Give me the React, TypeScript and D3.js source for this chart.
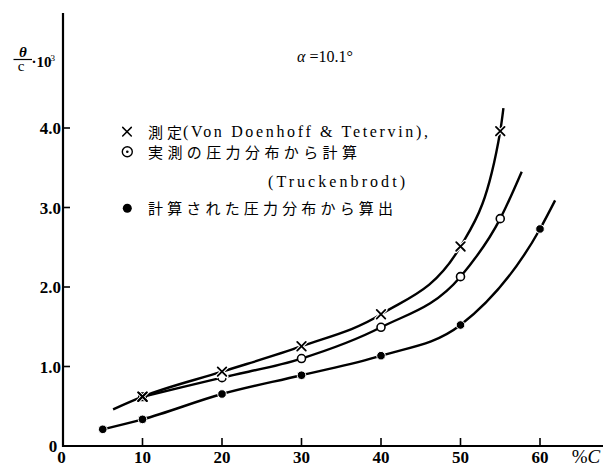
import React from "react";
import * as d3 from "d3";

// ---- data ----
const xTickValues = [10, 20, 30, 40, 50, 60];
const yTickValues = [1.0, 2.0, 3.0, 4.0];
const yTickLabels = ["1.0", "2.0", "3.0", "4.0"];

// × : measured (Von Doenhoff & Tetervin)
const measuredX = [10, 20, 30, 40, 50, 55];
const measuredY = [0.62, 0.935, 1.255, 1.657, 2.51, 3.96];
const measuredCurveStart: [number, number] = [6.3, 0.46];
const measuredCurveEnd: [number, number] = [55.4, 4.25];

// ○ : computed from measured pressure distribution (Truckenbrodt)
const openX = [20, 30, 40, 50, 55];
const openY = [0.86, 1.1, 1.493, 2.13, 2.86];
const openCurveStart: [number, number] = [10, 0.62];
const openCurveEnd: [number, number] = [57.7, 3.45];

// ● : computed from calculated pressure distribution
const filledX = [5, 10, 20, 30, 40, 50, 60];
const filledY = [0.21, 0.335, 0.654, 0.89, 1.136, 1.522, 2.73];
const filledCurveEnd: [number, number] = [61.9, 3.09];

// coincident point (× and ○ overlap)
const overlapX = [10];
const overlapY = [0.62];

const W = 613;
const H = 469;

export default function App() {
  const x = d3.scaleLinear().domain([0, 60]).range([63, 540]);
  const y = d3.scaleLinear().domain([0, 4]).range([446, 128]);

  const line = d3
    .line<[number, number]>()
    .x((d) => x(d[0]))
    .y((d) => y(d[1]))
    .curve(d3.curveMonotoneX);

  const zip = (xs: number[], ys: number[]) =>
    xs.map((v, i) => [v, ys[i]] as [number, number]);

  const measuredPts = zip(measuredX, measuredY);
  const openPts = zip(openX, openY);
  const filledPts = zip(filledX, filledY);
  const overlapPts = zip(overlapX, overlapY);

  const measuredPath = line([measuredCurveStart, ...measuredPts, measuredCurveEnd]) || "";
  const openPath = line([openCurveStart, ...openPts, openCurveEnd]) || "";
  const filledPath = line([...filledPts, filledCurveEnd]) || "";

  const serif = "'Liberation Serif', 'DejaVu Serif', serif";
  const jp = "'Noto Sans CJK JP', sans-serif";

  const axisLeft = 63;
  const axisBottom = 446;

  const cross = (cx: number, cy: number, s: number, key: string, sw = 1.8) => (
    <g key={key} stroke="#000" strokeWidth={sw} strokeLinecap="round">
      <line x1={cx - s} y1={cy - s} x2={cx + s} y2={cy + s} />
      <line x1={cx - s} y1={cy + s} x2={cx + s} y2={cy - s} />
    </g>
  );

  return (
    <svg
      width={W}
      height={H}
      viewBox={`0 0 ${W} ${H}`}
      style={{ position: "absolute", left: 0, top: 0, display: "block", background: "#fff" }}
    >
      <rect x={0} y={0} width={W} height={H} fill="#fff" />

      {/* axes */}
      <line x1={axisLeft} y1={13} x2={axisLeft} y2={axisBottom + 1} stroke="#000" strokeWidth={2.2} />
      <line x1={axisLeft - 1} y1={axisBottom} x2={603} y2={axisBottom} stroke="#000" strokeWidth={2.2} />

      {/* x ticks */}
      {xTickValues.map((t) => (
        <g key={"xt" + t}>
          <line x1={x(t)} x2={x(t)} y1={axisBottom} y2={axisBottom - 8} stroke="#000" strokeWidth={1.6} />
          <text
            x={x(t)}
            y={463}
            textAnchor="middle"
            fontFamily={serif}
            fontWeight="bold"
            fontSize={17}
          >
            {t}
          </text>
        </g>
      ))}
      <text x={61.5} y={463} textAnchor="middle" fontFamily={serif} fontWeight="bold" fontSize={17}>
        0
      </text>
      <text x={53} y={452} textAnchor="middle" fontFamily={serif} fontWeight="bold" fontSize={17}>
        0
      </text>
      <text x={586} y={463} textAnchor="middle" fontFamily={serif} fontSize={19}>
        %<tspan fontStyle="italic">C</tspan>
      </text>

      {/* y ticks */}
      {yTickValues.map((t, i) => (
        <g key={"yt" + t}>
          <line x1={axisLeft} x2={axisLeft + 7} y1={y(t)} y2={y(t)} stroke="#000" strokeWidth={1.6} />
          <text
            x={61}
            y={y(t) + 6}
            textAnchor="end"
            fontFamily={serif}
            fontWeight="bold"
            fontSize={17}
          >
            {yTickLabels[i]}
          </text>
        </g>
      ))}

      {/* y axis label: θ/c · 10³ */}
      <g fontFamily={serif}>
        <text x={23} y={56.5} textAnchor="middle" fontStyle="italic" fontWeight="bold" fontSize={15}>
          θ
        </text>
        <line x1={13.5} x2={32} y1={59.5} y2={59.5} stroke="#000" strokeWidth={1.2} />
        <text x={21} y={71} textAnchor="middle" fontSize={15}>
          c
        </text>
        <text x={31.5} y={67} fontWeight="bold" fontSize={15}>
          ·10
        </text>
        <text x={50.5} y={61} fontSize={9}>
          3
        </text>
      </g>

      {/* alpha */}
      <text x={297} y={62} fontFamily={serif} fontSize={16}>
        <tspan fontStyle="italic">α</tspan> =10.1°
      </text>

      {/* curves */}
      <path d={measuredPath} fill="none" stroke="#000" strokeWidth={2.4} />
      <path d={openPath} fill="none" stroke="#000" strokeWidth={2.4} />
      <path d={filledPath} fill="none" stroke="#000" strokeWidth={2.4} />

      {/* markers */}
      {filledPts.map((p, i) => (
        <circle key={"f" + i} cx={x(p[0])} cy={y(p[1])} r={4.3} fill="#000" stroke="#fff" strokeWidth={1} />
      ))}
      {openPts.map((p, i) => (
        <circle key={"o" + i} cx={x(p[0])} cy={y(p[1])} r={4} fill="#fff" stroke="#000" strokeWidth={1.6} />
      ))}
      {overlapPts.map((p, i) => (
        <rect key={"s" + i} x={x(p[0]) - 4.5} y={y(p[1]) - 4.5} width={9} height={9} fill="#000" />
      ))}
      {measuredPts.map((p, i) => (
        <g key={"m" + i}>
          {cross(x(p[0]), y(p[1]), 4.6, "mh" + i, 4)}
        </g>
      ))}
      {measuredPts.map((p, i) => cross(x(p[0]), y(p[1]), 4.3, "mc" + i))}
      <style>{`g[stroke="#000"][stroke-width="4"]{stroke:#fff}`}</style>
      {overlapPts.map((p, i) => cross(x(p[0]), y(p[1]), 4.3, "oc" + i))}

      {/* legend */}
      {cross(127, 131.7, 4.3, "lg1", 1.5)}
      <circle cx={127.3} cy={151.7} r={5} fill="#fff" stroke="#000" strokeWidth={1.4} />
      <circle cx={127.3} cy={151.7} r={1.3} fill="#000" />
      <circle cx={127.3} cy={208.3} r={4.5} fill="#000" />

      <text x={148} y={137.5} fontFamily={jp} fontSize={15} textLength={34} lengthAdjust="spacing">
        測定
      </text>
      <text
        x={183}
        y={137}
        fontFamily={serif}
        fontSize={16}
        textLength={245}
        lengthAdjust="spacing"
      >
        (Von Doenhoff &amp; Tetervin),
      </text>
      <text x={148} y={157.5} fontFamily={jp} fontSize={15} textLength={209} lengthAdjust="spacing">
        実測の圧力分布から計算
      </text>
      <text
        x={268}
        y={187}
        fontFamily={serif}
        fontSize={16}
        textLength={137}
        lengthAdjust="spacing"
      >
        (Truckenbrodt)
      </text>
      <text x={148} y={214} fontFamily={jp} fontSize={15} textLength={245} lengthAdjust="spacing">
        計算された圧力分布から算出
      </text>
    </svg>
  );
}
